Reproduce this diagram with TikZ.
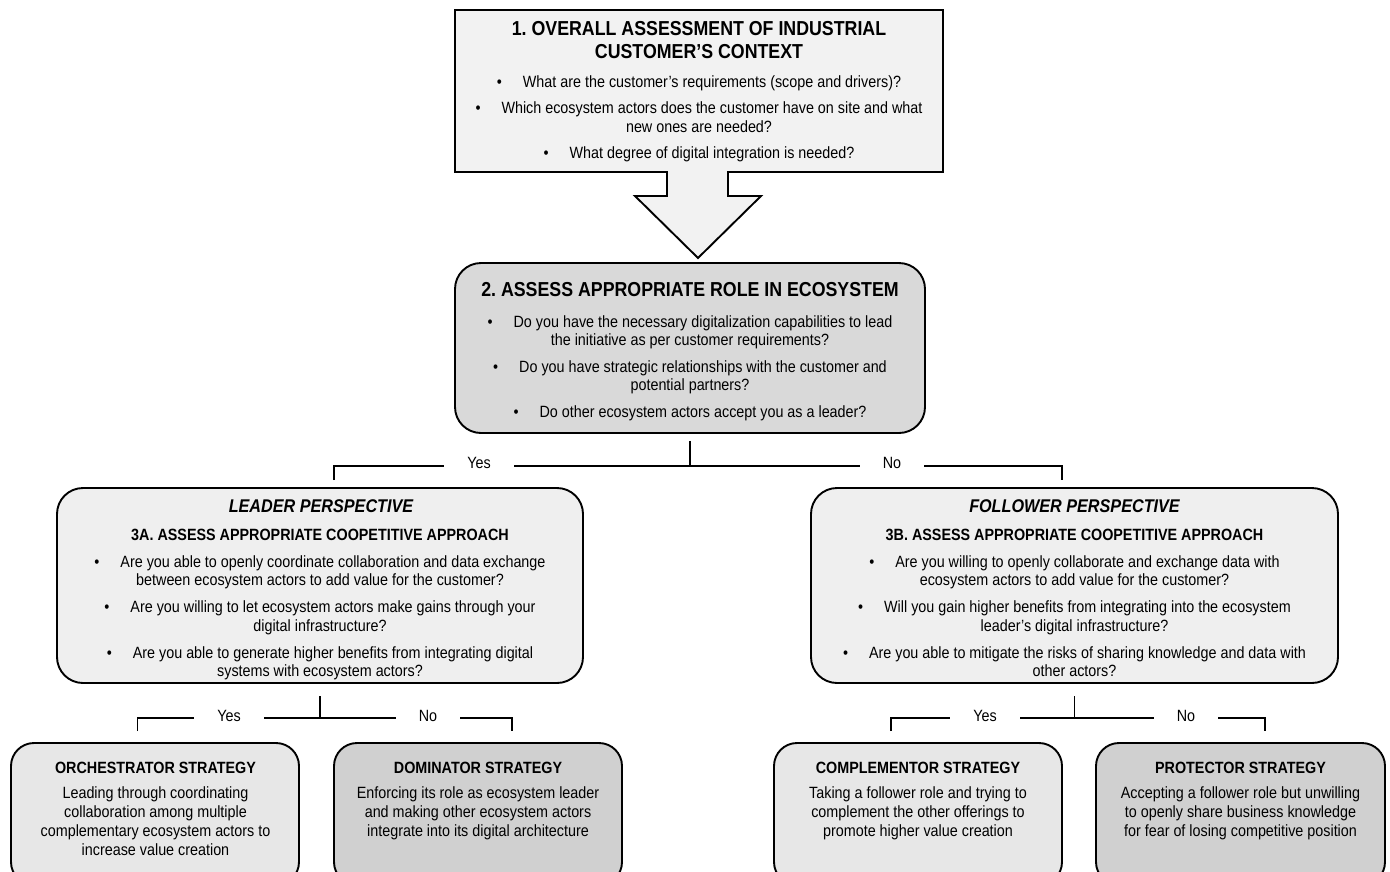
\documentclass[tikz,border=0pt]{standalone}
\usepackage{fontspec}
\setmainfont{Liberation Sans}[FakeStretch=0.88]
\usetikzlibrary{calc}
\frenchspacing
\definecolor{fillA}{HTML}{F2F2F2}
\definecolor{fillB}{HTML}{D9D9D9}
\definecolor{fillC}{HTML}{EFEFEF}
\definecolor{fillL}{HTML}{E7E7E7}
\definecolor{fillD}{HTML}{D0D0D0}
\newcommand{\bodyfnt}{\fontsize{16.3pt}{18.5pt}\selectfont}
\newcommand{\ttlfnt}{\fontsize{20.2pt}{23pt}\selectfont\bfseries}
\newcommand{\subfnt}{\fontsize{16.3pt}{18.5pt}\selectfont\bfseries}
\newcommand{\perfnt}{\fontsize{18.4pt}{21pt}\selectfont\bfseries\itshape}
\newcommand{\stratfnt}{\fontsize{16.3pt}{19pt}\selectfont}
\newcommand{\bulitem}{\makebox[26pt][l]{\textbullet}}
\begin{document}
\frenchspacing
\begin{tikzpicture}[x=1pt,y=-1pt,
  frame/.style={draw=black, line width=1.9pt, inner sep=0pt},
  rbox/.style={frame, rounded corners=26pt},
  sbox/.style={frame, rounded corners=23pt, minimum width=288pt, minimum height=142pt},
  conn/.style={draw=black, line width=1.9pt},
  ttl/.style={anchor=base, inner sep=0pt},
  body/.style={anchor=north, inner sep=0pt, align=center, font=\bodyfnt},
  lbl/.style={fill=white, inner xsep=23pt, inner ysep=3pt, anchor=base, font=\bodyfnt}
]
\useasboundingbox (0,0) rectangle (1390,871);
\clip (0,0) rectangle (1390,871);

% ---------- box 1 ----------
\node[frame, fill=fillA, minimum width=488pt, minimum height=162pt] (b1) at (699,91) {};
\fill[fillA] (667,168) -- (667,196) -- (635,196) -- (698,258) -- (761,196) -- (728,196) -- (728,168) -- cycle;
\draw[line width=1.9pt, line join=miter] (667,171.1) -- (667,196) -- (635,196) -- (698,258) -- (761,196) -- (728,196) -- (728,171.1);
\node[anchor=north, inner sep=0pt, align=center, font=\ttlfnt] (t1) at (699,19) {\strut 1. OVERALL ASSESSMENT OF INDUSTRIAL\\CUSTOMER’S CONTEXT};
\node[body] (q1) at (699,74) {\strut\bulitem What are the customer’s requirements (scope and drivers)?\\[8pt]
\bulitem Which ecosystem actors does the customer have on site and what\\new ones are needed?\\[8pt]
\bulitem What degree of digital integration is needed?};

% ---------- box 2 ----------
\node[rbox, fill=fillB, minimum width=470pt, minimum height=170pt] (b2) at (690,348) {};
\node[ttl, font=\ttlfnt] (t2) at (690,296) {2. ASSESS APPROPRIATE ROLE IN ECOSYSTEM};
\node[body] (q2) at (690,314) {\strut\bulitem Do you have the necessary digitalization capabilities to lead\\the initiative as per customer requirements?\\[8pt]
\bulitem Do you have strategic relationships with the customer and\\potential partners?\\[8pt]
\bulitem Do other ecosystem actors accept you as a leader?};

% ---------- box 3A ----------
\node[rbox, fill=fillC, minimum width=526pt, minimum height=195pt] (b3a) at (320,585.5) {};
\node[ttl, font=\perfnt] (p3a) at (321,512) {LEADER PERSPECTIVE};
\node[ttl, font=\subfnt] (t3a) at (320,540) {3A. ASSESS APPROPRIATE COOPETITIVE APPROACH};
\node[body] (q3a) at (320,554) {\strut\bulitem Are you able to openly coordinate collaboration and data exchange\\between ecosystem actors to add value for the customer?\\[8.5pt]
\bulitem Are you willing to let ecosystem actors make gains through your\\digital infrastructure?\\[8.5pt]
\bulitem Are you able to generate higher benefits from integrating digital\\systems with ecosystem actors?};

% ---------- box 3B ----------
\node[rbox, fill=fillC, minimum width=527pt, minimum height=195pt] (b3b) at (1074.5,585.5) {};
\node[ttl, font=\perfnt] (p3b) at (1074.5,512) {FOLLOWER PERSPECTIVE};
\node[ttl, font=\subfnt] (t3b) at (1074.5,540) {3B. ASSESS APPROPRIATE COOPETITIVE APPROACH};
\node[body] (q3b) at (1074.5,554) {\strut\bulitem Are you willing to openly collaborate and exchange data with\\ecosystem actors to add value for the customer?\\[8.5pt]
\bulitem Will you gain higher benefits from integrating into the ecosystem\\leader’s digital infrastructure?\\[8.5pt]
\bulitem Are you able to mitigate the risks of sharing knowledge and data with\\other actors?};

% ---------- strategy boxes ----------
\node[sbox, fill=fillL] (s1) at (155,814) {};
\node[sbox, fill=fillD] (s2) at (478,814) {};
\node[sbox, fill=fillL] (s3) at (918,814) {};
\node[sbox, fill=fillD, minimum width=289pt] (s4) at (1240.5,814) {};
\node[ttl, font=\subfnt] (ts1) at (155.5,773) {ORCHESTRATOR STRATEGY};
\node[ttl, font=\subfnt] (ts2) at (478,773) {DOMINATOR STRATEGY};
\node[ttl, font=\subfnt] (ts3) at (918,773) {COMPLEMENTOR STRATEGY};
\node[ttl, font=\subfnt] (ts4) at (1240.5,773) {PROTECTOR STRATEGY};
\node[body, font=\stratfnt] (d1) at (155.5,785) {\strut Leading through coordinating\\collaboration among multiple\\complementary ecosystem actors to\\increase value creation};
\node[body, font=\stratfnt] (d2) at (478,785) {\strut Enforcing its role as ecosystem leader\\and making other ecosystem actors\\integrate into its digital architecture};
\node[body, font=\stratfnt] (d3) at (918,785) {\strut Taking a follower role and trying to\\complement the other offerings to\\promote higher value creation};
\node[body, font=\stratfnt] (d4) at (1240.5,785) {\strut Accepting a follower role but unwilling\\to openly share business knowledge\\for fear of losing competitive position};

% ---------- connectors: level 2 -> 3 ----------
\coordinate (c2a) at ($(b2.south)+(0,7)$);
\coordinate (c2h) at ($(b2.south)+(0,32)$);
\coordinate (c2l) at ($(b3a.north)+(14,-7)$);
\coordinate (c2r) at ($(b3b.north)+(-12.5,-7)$);
\draw[conn] (c2a) -- (c2h);
\draw[conn] (c2l) |- (c2h) -| (c2r);
\node[lbl] (y1) at (479,468.5) {Yes};
\node[lbl] (n1) at (892,468.5) {No};

% ---------- connectors: 3A -> strategies ----------
\coordinate (c3a) at ($(b3a.south)+(0,12.5)$);
\coordinate (c3h) at ($(b3a.south)+(0,34)$);
\coordinate (c3l) at ($(s1.north)+(-17.5,-11)$);
\coordinate (c3r) at ($(s2.north)+(34,-11)$);
\draw[conn] (c3a) -- (c3h);
\draw[conn] (c3l) |- (c3h) -| (c3r);
\node[lbl] (y2) at (229,721) {Yes};
\node[lbl] (n2) at (428,721) {No};

% ---------- connectors: 3B -> strategies ----------
\coordinate (c4a) at ($(b3b.south)+(0,12.5)$);
\coordinate (c4h) at ($(b3b.south)+(0,34)$);
\coordinate (c4l) at ($(s3.north)+(-27,-11)$);
\coordinate (c4r) at ($(s4.north)+(24.5,-11)$);
\draw[conn] (c4a) -- (c4h);
\draw[conn] (c4l) |- (c4h) -| (c4r);
\node[lbl] (y3) at (985,721) {Yes};
\node[lbl] (n3) at (1186,721) {No};
\end{tikzpicture}
\end{document}
